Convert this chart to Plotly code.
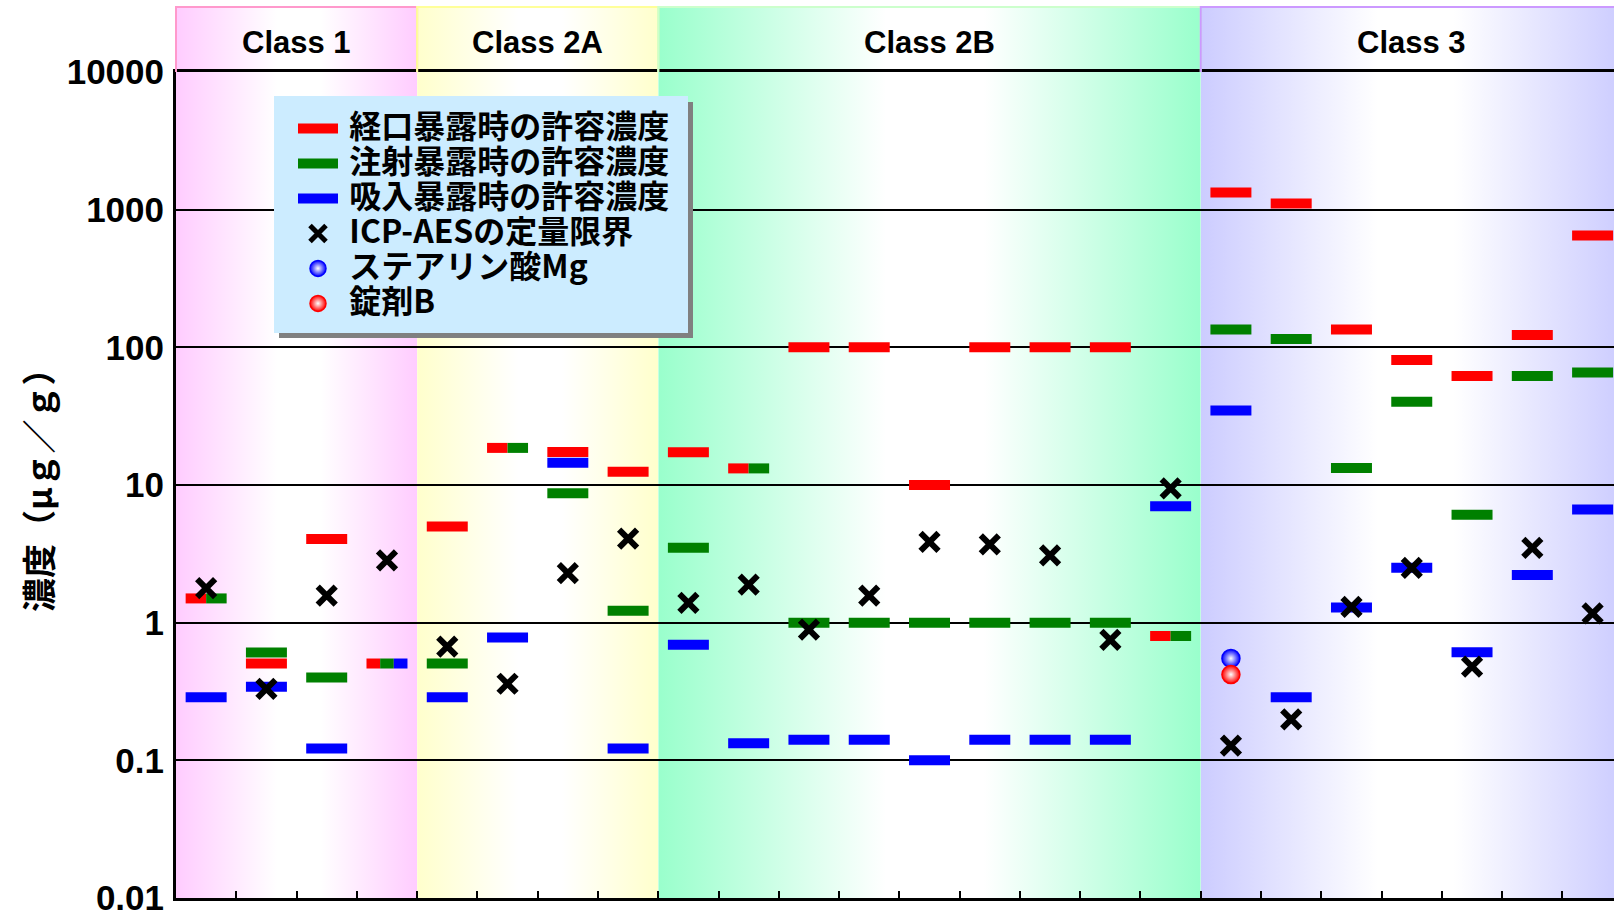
import base64
import plotly.graph_objects as go

# ---- data (µg/g) ----
elements = ["As", "Cd", "Hg", "Pb",
            "Co", "Mo", "Se", "V",
            "Ag", "Au", "Ir", "Os", "Pd", "Pt", "Rh", "Ru", "Tl",
            "Ba", "Cr", "Cu", "Li", "Ni", "Sb", "Sn"]
class_names = ["Class 1", "Class 2A", "Class 2B", "Class 3"]
class_sizes = [4, 4, 9, 7]

oral = [1.5, 0.505, 4.06, 0.505,
        5.0, 18.6, 17.4, 12.5,
        17.3, 13.2, 100, 100, 10, 100, 100, 100, 0.8,
        1330, 1110, 135, 81, 62, 123, 649]
parenteral = [1.5, 0.608, 0.40, 0.505,
              0.505, 18.6, 8.7, 1.22,
              3.5, 13.2, 1.0, 1.0, 1.0, 1.0, 1.0, 1.0, 0.8,
              135, 115, 13.3, 40.3, 6.07, 62, 65.6]
inhalation = [0.287, 0.343, 0.122, 0.505,
              0.287, 0.78, 14.5, 0.122,
              0.69, 0.133, 0.141, 0.141, 0.10, 0.141, 0.141, 0.141, 7.0,
              34.8, 0.287, 1.29, 2.51, 0.61, 2.22, 6.64]
icp_loq = [1.78, 0.33, 1.57, 2.84,
           0.67, 0.36, 2.29, 4.08,
           1.39, 1.89, 0.89, 1.57, 3.87, 3.7, 3.08, 0.75, 9.45,
           0.128, 0.198, 1.3, 2.5, 0.48, 3.49, 1.17]
mg_stearate_elements = ["Ba"]
mg_stearate = [0.55]
tablet_b_elements = ["Ba"]
tablet_b = [0.42]

ytick_vals = [0.01, 0.1, 1, 10, 100, 1000, 10000]
ytick_text = ["0.01", "0.1", "1", "10", "100", "1000", "10000"]

series_names = ["経口暴露時の許容濃度", "注射暴露時の許容濃度", "吸入暴露時の許容濃度"]
series_colors = ["#FF0000", "#008000", "#0000FF"]
band_colors = ["#FFCCFF", "#FFFFCC", "#99FFCC", "#CCCCFF"]
border_colors = ["#FF99CC", "#FFFF99", "#CCFFCC", "#CC99FF"]

# ---- layout geometry ----
W, H = 1614, 916
M_L, M_R, M_T, M_B = 176, 0, 72, 18
X_MIN = -0.5
X_MAX = 23.355
PLOT_H = H - M_T - M_B
PLOT_W = W - M_L - M_R
HEADER_TOP = 1 + (M_T - 7) / PLOT_H      # paper y of the class header top
HALF_BAR = 0.34                          # half bar width in category units

CJK = "Noto Sans CJK JP"
LATIN = "Liberation Sans"

idx = {e: i for i, e in enumerate(elements)}


def paper_x(v):
    return (v - X_MIN) / (X_MAX - X_MIN)


def px_to_paper(px, py):
    return (px - M_L) / PLOT_W, 1 - (py - M_T) / PLOT_H


def bar_segments(values_by_series, s):
    """Horizontal bar segments for series s; equal values share the bar width."""
    xs, ys = [], []
    for i in range(len(elements)):
        v = values_by_series[s][i]
        group = [k for k in range(len(values_by_series))
                 if abs(values_by_series[k][i] - v) <= 1e-9 * v]
        n = len(group)
        k = group.index(s)
        seg = 2 * HALF_BAR / n
        x0 = i - HALF_BAR + k * seg
        xs += [x0, x0 + seg, None]
        ys += [v, v, None]
    return xs, ys


def legend_label(t):
    return ('<span style="font-size:28px">\u00a0</span>'
            '<span style="font-size:32px">' + t + "</span>")


fig = go.Figure()

all_series = [oral, parenteral, inhalation]
for s, (name, color) in enumerate(zip(series_names, series_colors)):
    xs, ys = bar_segments(all_series, s)
    fig.add_trace(go.Scatter(
        x=xs, y=ys, mode="lines", name=legend_label(name),
        line=dict(color=color, width=10), hoverinfo="skip"))

fig.add_trace(go.Scatter(
    x=list(range(len(elements))), y=icp_loq, mode="markers",
    name=legend_label("ICP-AESの定量限界"),
    marker=dict(symbol="x-thin", size=18, color="black",
                line=dict(color="black", width=6))))

fig.add_trace(go.Scatter(
    x=[idx[e] for e in mg_stearate_elements], y=mg_stearate, mode="markers",
    name=legend_label("ステアリン酸Mg"),
    marker=dict(symbol="circle", size=18, color="#0000FF",
                gradient=dict(type="radial", color="white"),
                line=dict(color="#0000FF", width=1.5))))

fig.add_trace(go.Scatter(
    x=[idx[e] for e in tablet_b_elements], y=tablet_b, mode="markers",
    name=legend_label("錠剤B"),
    marker=dict(symbol="circle", size=18, color="#FF0000",
                gradient=dict(type="radial", color="white"),
                line=dict(color="#FF0000", width=1.5))))

# ---- class bands (gradient backgrounds + header) ----
images, shapes, annotations = [], [], []
label_y = px_to_paper(0, 43)[1]
start = X_MIN
for name, n, c, bc in zip(class_names, class_sizes, band_colors, border_colors):
    svg = ('<svg xmlns="http://www.w3.org/2000/svg" width="100" height="100" '
           'viewBox="0 0 100 100" preserveAspectRatio="none"><defs>'
           '<linearGradient id="g" x1="0" y1="0" x2="1" y2="0">'
           f'<stop offset="0" stop-color="{c}"/>'
           '<stop offset="0.42" stop-color="#FFFFFF"/>'
           '<stop offset="0.6" stop-color="#FFFFFF"/>'
           f'<stop offset="1" stop-color="{c}"/>'
           '</linearGradient></defs>'
           '<rect width="100" height="100" fill="url(#g)"/></svg>')
    src = "data:image/svg+xml;base64," + base64.b64encode(svg.encode()).decode()
    x0, x1 = paper_x(start), paper_x(start + n)
    images.append(dict(source=src, xref="paper", yref="paper", x=x0, y=HEADER_TOP,
                       sizex=x1 - x0, sizey=HEADER_TOP, xanchor="left", yanchor="top",
                       sizing="stretch", layer="below"))
    shapes.append(dict(type="path", xref="paper", yref="paper",
                       path=f"M{x0},1 L{x0},{HEADER_TOP} L{x1},{HEADER_TOP} L{x1},1",
                       line=dict(color=bc, width=2), layer="above"))
    annotations.append(dict(text=name, xref="paper", yref="paper",
                            x=(x0 + x1) / 2, y=label_y,
                            xanchor="center", yanchor="middle", showarrow=False,
                            font=dict(family=LATIN, size=31, color="black", weight="bold")))
    start += n

# ---- legend frame with drop shadow ----
sx0, sy0 = px_to_paper(279, 102)
sx1, sy1 = px_to_paper(693, 338)
shapes.append(dict(type="rect", xref="paper", yref="paper", x0=sx0, y0=sy1, x1=sx1, y1=sy0,
                   fillcolor="#808080", line=dict(width=0), layer="above"))
bx0, by0 = px_to_paper(274, 96)
bx1, by1 = px_to_paper(688, 333)
shapes.append(dict(type="rect", xref="paper", yref="paper", x0=bx0, y0=by1, x1=bx1, y1=by0,
                   fillcolor="#CCECFF", line=dict(width=0), layer="above"))

tx, ty = px_to_paper(37, 482)
annotations.append(dict(text="濃度（μｇ／ｇ）", xref="paper", yref="paper",
                        x=tx, y=ty, xanchor="center", yanchor="middle",
                        textangle=-90, showarrow=False,
                        font=dict(family=CJK, size=34, color="black", weight="bold")))

lx, ly = px_to_paper(293, 106)

fig.update_layout(
    width=W, height=H,
    margin=dict(l=M_L, r=M_R, t=M_T, b=M_B, pad=0),
    paper_bgcolor="white", plot_bgcolor="rgba(0,0,0,0)",
    showlegend=True,
    legend=dict(x=lx, y=ly, xanchor="left", yanchor="top",
                bgcolor="rgba(0,0,0,0)", borderwidth=0, itemwidth=40,
                tracegroupgap=0,
                font=dict(family=CJK, size=24.6, color="black", weight="bold")),
    images=images, shapes=shapes, annotations=annotations,
    xaxis=dict(range=[X_MIN, X_MAX], showgrid=False, zeroline=False,
               showline=True, linecolor="black", linewidth=3, mirror=True,
               tickmode="array", tickvals=[i + 0.5 for i in range(len(elements) - 1)],
               ticks="inside", ticklen=7, tickwidth=2, tickcolor="black",
               showticklabels=False),
    yaxis=dict(type="log", range=[-2, 4], showgrid=True, gridcolor="black", gridwidth=2,
               showline=True, linecolor="black", linewidth=3, zeroline=False,
               tickmode="array", tickvals=ytick_vals, ticktext=ytick_text, ticks="",
               ticklabelstandoff=2, ticklabeloverflow="allow",
               tickfont=dict(family=LATIN, size=35, color="black", weight="bold")),
)

fig.write_html("out.html")
